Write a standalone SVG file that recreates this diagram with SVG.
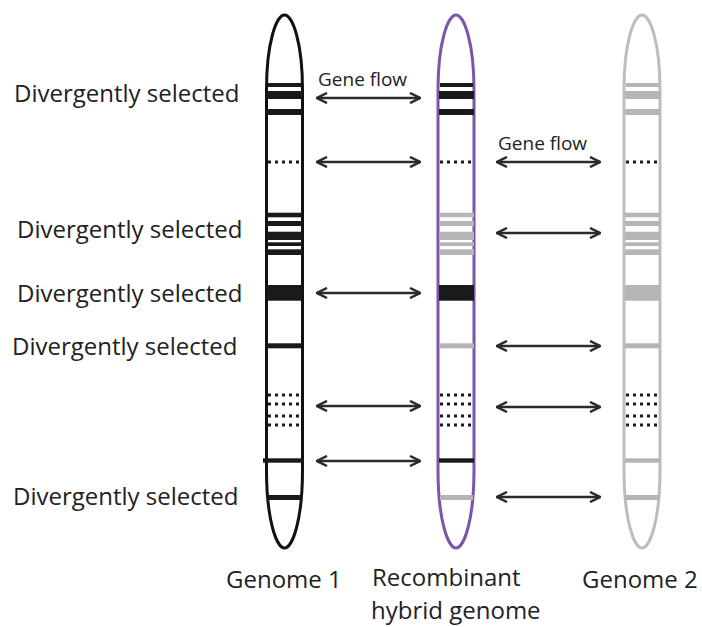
<svg xmlns="http://www.w3.org/2000/svg" width="702" height="627" viewBox="0 0 702 627">
<style>
text{font-family:"Open Sans","Liberation Sans",sans-serif;fill:#222}
.lbl{font-size:24px}
.gf{font-size:19px}
.chr{fill:#fff;stroke-width:3}
.blk{fill:#1a1a1a}
.gry{fill:#b5b5b5}
.dot{stroke:#1a1a1a;stroke-width:3;stroke-dasharray:3 4;fill:none}
.arr{stroke:#2b2b2b;stroke-width:2.3;fill:none;marker-start:url(#ah);marker-end:url(#ah)}
</style>
<defs>
<marker id="ah" viewBox="0 0 12 12" refX="11" refY="6" markerWidth="12" markerHeight="12" markerUnits="userSpaceOnUse" orient="auto-start-reverse">
<path d="M1,1 L11,6 L1,11" fill="none" stroke="#2b2b2b" stroke-width="2.5"/>
</marker>
<path id="chrshape" d="M-18,90 C-18,42 -8,15 0,15 C8,15 18,42 18,90 L18,470 C18,520 8,548 0,548 C-8,548 -18,520 -18,470 Z"/>
</defs>

<g id="labels-left">
<text class="lbl" x="14" y="102">Divergently selected</text>
<text class="lbl" x="17" y="238">Divergently selected</text>
<text class="lbl" x="17" y="302">Divergently selected</text>
<text class="lbl" x="12" y="355">Divergently selected</text>
<text class="lbl" x="13" y="505">Divergently selected</text>
</g>

<g id="genome1">
<use href="#chrshape" x="284.5" class="chr" stroke="#111"/>
<rect class="blk" x="268" y="83" width="33" height="4"/>
<rect class="blk" x="267" y="91" width="35" height="8"/>
<rect class="blk" x="267" y="109" width="35" height="6"/>
<line class="dot" x1="268" y1="162" x2="302" y2="162"/>
<rect class="blk" x="267" y="212.7" width="35" height="4.6"/>
<rect class="blk" x="267" y="221" width="35" height="5"/>
<rect class="blk" x="267" y="231.7" width="35" height="8.3"/>
<rect class="blk" x="267" y="242.3" width="35" height="3.7"/>
<rect class="blk" x="267" y="249.3" width="35" height="5.7"/>
<rect class="blk" x="267" y="285" width="35" height="15.7"/>
<rect class="blk" x="267" y="343.3" width="35" height="5"/>
<line class="dot" x1="268" y1="395" x2="302" y2="395"/>
<line class="dot" x1="268" y1="404" x2="302" y2="404"/>
<line class="dot" x1="268" y1="416" x2="302" y2="416"/>
<line class="dot" x1="268" y1="425" x2="302" y2="425"/>
<rect class="blk" x="263" y="458.3" width="41" height="4.4"/>
<rect class="blk" x="268" y="495" width="33" height="5"/>
<text class="lbl" x="226" y="588">Genome 1</text>
</g>

<g id="hybrid">
<use href="#chrshape" x="456" class="chr" stroke="#7b55a6"/>
<rect class="blk" x="440" y="83" width="33" height="4"/>
<rect class="blk" x="439" y="91" width="35" height="8"/>
<rect class="blk" x="439" y="109" width="35" height="6"/>
<line class="dot" x1="440" y1="162" x2="474" y2="162"/>
<rect class="gry" x="439" y="212.7" width="35" height="4.6"/>
<rect class="gry" x="439" y="221" width="35" height="5"/>
<rect class="gry" x="439" y="231.7" width="35" height="8.3"/>
<rect class="gry" x="439" y="242.3" width="35" height="3.7"/>
<rect class="gry" x="439" y="249.3" width="35" height="5.7"/>
<rect class="blk" x="439" y="285" width="35" height="15.7"/>
<rect class="gry" x="439" y="343.3" width="35" height="5"/>
<line class="dot" x1="440" y1="395" x2="474" y2="395"/>
<line class="dot" x1="440" y1="404" x2="474" y2="404"/>
<line class="dot" x1="440" y1="416" x2="474" y2="416"/>
<line class="dot" x1="440" y1="425" x2="474" y2="425"/>
<rect class="blk" x="439" y="458.3" width="35" height="4.4"/>
<rect class="gry" x="440" y="495" width="33" height="5"/>
<text class="lbl" x="372" y="586">Recombinant</text>
<text class="lbl" x="371" y="619">hybrid genome</text>
</g>

<g id="genome2">
<use href="#chrshape" x="642" class="chr" stroke="#bdbdbd"/>
<rect class="gry" x="626" y="83" width="33" height="4"/>
<rect class="gry" x="625" y="91" width="35" height="8"/>
<rect class="gry" x="625" y="109" width="35" height="6"/>
<line class="dot" x1="626" y1="162" x2="660" y2="162"/>
<rect class="gry" x="625" y="212.7" width="35" height="4.6"/>
<rect class="gry" x="625" y="221" width="35" height="5"/>
<rect class="gry" x="625" y="231.7" width="35" height="8.3"/>
<rect class="gry" x="625" y="242.3" width="35" height="3.7"/>
<rect class="gry" x="625" y="249.3" width="35" height="5.7"/>
<rect class="gry" x="625" y="285" width="35" height="15.7"/>
<rect class="gry" x="625" y="343.3" width="35" height="5"/>
<line class="dot" x1="626" y1="395" x2="660" y2="395"/>
<line class="dot" x1="626" y1="404" x2="660" y2="404"/>
<line class="dot" x1="626" y1="416" x2="660" y2="416"/>
<line class="dot" x1="626" y1="425" x2="660" y2="425"/>
<rect class="gry" x="625" y="458.3" width="35" height="4.4"/>
<rect class="gry" x="625" y="495" width="35" height="5"/>
<text class="lbl" x="582" y="588">Genome 2</text>
</g>

<g id="connectors">
<text class="gf" x="318" y="86">Gene flow</text>
<text class="gf" x="498" y="150">Gene flow</text>
<line class="arr" x1="317" y1="98" x2="420" y2="98"/>
<line class="arr" x1="317" y1="162" x2="420" y2="162"/>
<line class="arr" x1="317" y1="293" x2="420" y2="293"/>
<line class="arr" x1="317" y1="406" x2="420" y2="406"/>
<line class="arr" x1="317" y1="461" x2="420" y2="461"/>
<line class="arr" x1="497" y1="162" x2="600" y2="162"/>
<line class="arr" x1="497" y1="233" x2="600" y2="233"/>
<line class="arr" x1="497" y1="346" x2="600" y2="346"/>
<line class="arr" x1="497" y1="407" x2="600" y2="407"/>
<line class="arr" x1="497" y1="497" x2="600" y2="497"/>
</g>
</svg>
